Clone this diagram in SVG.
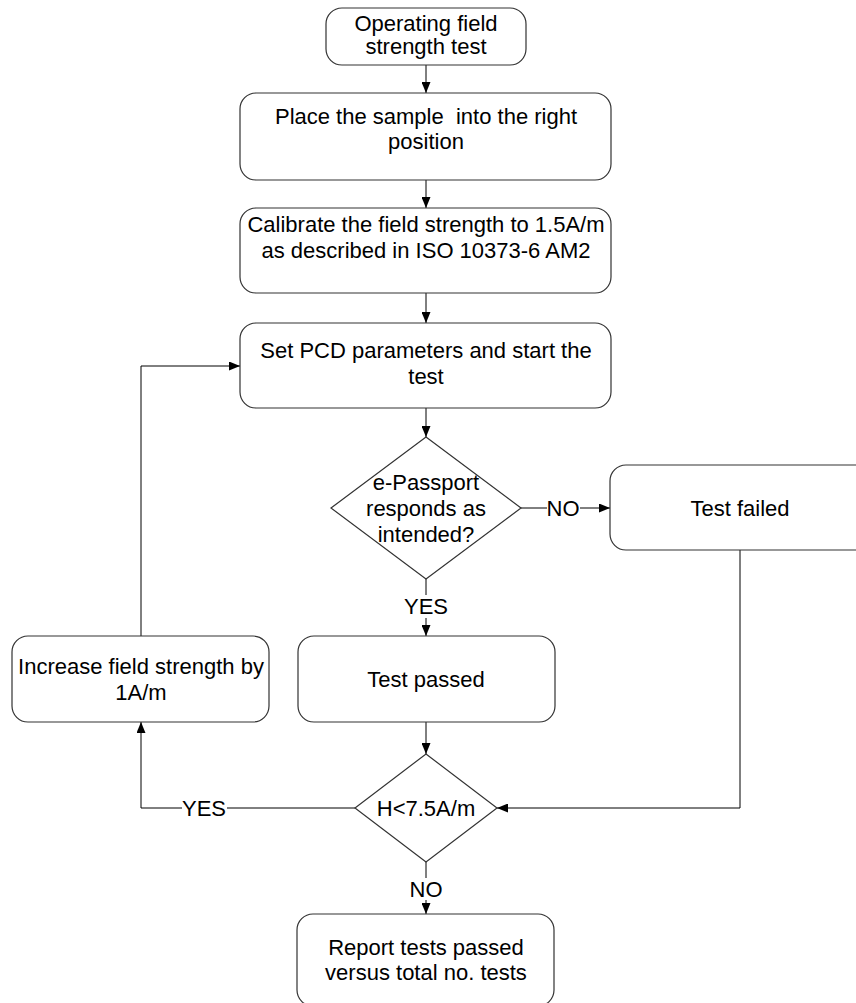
<svg xmlns="http://www.w3.org/2000/svg" width="856" height="1003" viewBox="0 0 856 1003">
<style>
.box{fill:#fff;stroke:#333;stroke-width:1.2}
.t{font-family:"Liberation Sans",Arial,sans-serif;font-size:22px;fill:#000;text-anchor:middle}
.c{fill:none;stroke:#000;stroke-width:1}
</style>
<defs>
<marker id="arr" markerUnits="userSpaceOnUse" markerWidth="11" markerHeight="9" refX="11" refY="4.5" orient="auto">
<path d="M0,0 L11,4.5 L0,9 z" fill="#000"/>
</marker>
</defs>
<rect width="856" height="1003" fill="#fff"/>
<g id="connectors">
<line class="c" x1="426" y1="65" x2="426" y2="93" marker-end="url(#arr)"/>
<line class="c" x1="426" y1="180" x2="426" y2="208" marker-end="url(#arr)"/>
<line class="c" x1="426" y1="293" x2="426" y2="323" marker-end="url(#arr)"/>
<line class="c" x1="426" y1="408" x2="426" y2="437" marker-end="url(#arr)"/>
<line class="c" x1="521" y1="508" x2="547" y2="508"/>
<line class="c" x1="580" y1="508" x2="610" y2="508" marker-end="url(#arr)"/>
<line class="c" x1="426" y1="579" x2="426" y2="595"/>
<line class="c" x1="426" y1="618" x2="426" y2="636" marker-end="url(#arr)"/>
<line class="c" x1="426" y1="722" x2="426" y2="754" marker-end="url(#arr)"/>
<polyline class="c" points="740,550 740,808 497,808" marker-end="url(#arr)"/>
<line class="c" x1="355" y1="808" x2="227" y2="808"/>
<polyline class="c" points="182,808 141,808 141,722" marker-end="url(#arr)"/>
<polyline class="c" points="141,636 141,366 240,366" marker-end="url(#arr)"/>
<line class="c" x1="426" y1="862" x2="426" y2="878"/>
<line class="c" x1="426" y1="900" x2="426" y2="914" marker-end="url(#arr)"/>
<text class="t" x="563" y="516">NO</text>
<text class="t" x="426" y="614">YES</text>
<text class="t" x="204" y="816">YES</text>
<text class="t" x="426" y="897">NO</text>
</g>
<g id="start">
<rect class="box" x="326" y="8" width="200" height="57" rx="16"/>
<text class="t" x="426" y="31">Operating field</text>
<text class="t" x="426" y="54">strength test</text>
</g>
<g id="place">
<rect class="box" x="240" y="93" width="371" height="87" rx="16"/>
<text class="t" x="426" y="124" xml:space="preserve">Place the sample  into the right</text>
<text class="t" x="426" y="149">position</text>
</g>
<g id="calibrate">
<rect class="box" x="240" y="208" width="371" height="85" rx="16"/>
<text class="t" x="426" y="232">Calibrate the field strength to 1.5A/m</text>
<text class="t" x="426" y="258">as described in ISO 10373-6 AM2</text>
</g>
<g id="setpcd">
<rect class="box" x="240" y="323" width="371" height="85" rx="16"/>
<text class="t" x="426" y="358">Set PCD parameters and start the</text>
<text class="t" x="426" y="384">test</text>
</g>
<g id="decision1">
<polygon class="box" points="426,437 521,508 426,579 331,508"/>
<text class="t" x="426" y="490">e-Passport</text>
<text class="t" x="426" y="516">responds as</text>
<text class="t" x="426" y="542">intended?</text>
</g>
<g id="failed">
<rect class="box" x="610" y="465" width="262" height="85" rx="16"/>
<text class="t" x="740" y="516">Test failed</text>
</g>
<g id="passed">
<rect class="box" x="298" y="636" width="257" height="86" rx="16"/>
<text class="t" x="426" y="687">Test passed</text>
</g>
<g id="increase">
<rect class="box" x="12" y="636" width="257" height="86" rx="16"/>
<text class="t" x="141" y="674">Increase field strength by</text>
<text class="t" x="141" y="700">1A/m</text>
</g>
<g id="decision2">
<polygon class="box" points="426,754 497,808 426,862 355,808"/>
<text class="t" x="426" y="816">H&lt;7.5A/m</text>
</g>
<g id="report">
<rect class="box" x="297" y="914" width="257" height="92" rx="16"/>
<text class="t" x="426" y="955">Report tests passed</text>
<text class="t" x="426" y="980">versus total no. tests</text>
</g>
</svg>
